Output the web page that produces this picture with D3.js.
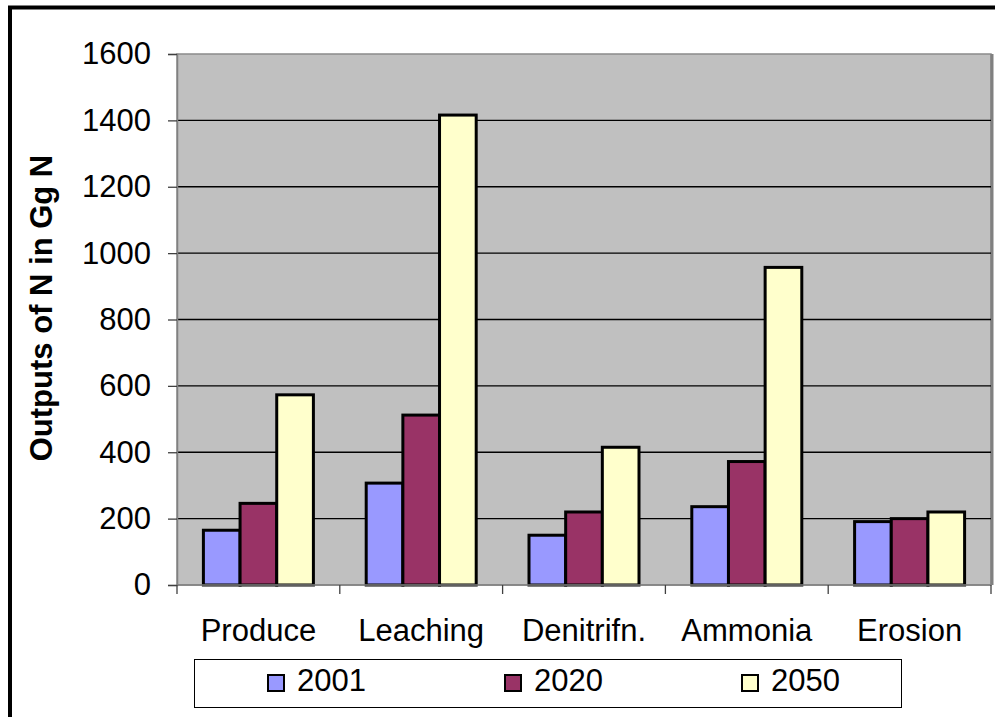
<!DOCTYPE html>
<html>
<head>
<meta charset="utf-8">
<script src="https://cdn.jsdelivr.net/npm/d3@7"></script>
<style>
  body { margin: 0; background: #fff; }
  svg text { font-family: Arial, "Liberation Sans", sans-serif; fill: #000; }
</style>
</head>
<body>
<svg id="chart" width="995" height="717"></svg>
<script>
// ---- data ----
const categories = ["Produce", "Leaching", "Denitrifn.", "Ammonia", "Erosion"];
const seriesNames = ["2001", "2020", "2050"];
const values2001 = [165, 307, 150, 236, 191];
const values2020 = [246, 512, 220, 372, 200];
const values2050 = [573, 1416, 415, 957, 220];
const yTicks = [0, 200, 400, 600, 800, 1000, 1200, 1400, 1600];
const colors = ["#9999FF", "#993366", "#FFFFCC"];

const seriesValues = [values2001, values2020, values2050];
const table = categories.map((c, i) => ({
  cat: c,
  vals: seriesNames.map((s, j) => ({ key: s, v: seriesValues[j][i] }))
}));

// ---- layout ----
const svg = d3.select("#chart");
const plot = { left: 177, right: 991, top: 54, bottom: 585 };

// outer chart border (runs off the right/bottom edge)
svg.append("rect")
  .attr("x", 10).attr("y", 7.5)
  .attr("width", 1010).attr("height", 730)
  .attr("fill", "none").attr("stroke", "#000").attr("stroke-width", 4);

const y = d3.scaleLinear().domain([0, 1600]).range([plot.bottom, plot.top]);
const x0 = d3.scaleBand().domain(categories).range([plot.left, plot.right]).padding(0);
const x1 = d3.scaleBand().domain(seriesNames)
  .range([0, x0.bandwidth()]).paddingInner(0).paddingOuter(0.72);

// plot background
svg.append("rect")
  .attr("x", plot.left).attr("y", plot.top)
  .attr("width", plot.right - plot.left).attr("height", plot.bottom - plot.top)
  .attr("fill", "#C0C0C0").attr("stroke", "#8a8a8a").attr("stroke-width", 1.5);
svg.append("line")
  .attr("x1", plot.right + 1).attr("x2", plot.right + 1)
  .attr("y1", plot.top).attr("y2", plot.bottom)
  .attr("stroke", "#808080").attr("stroke-width", 3);

// gridlines
svg.append("g")
  .selectAll("line")
  .data(yTicks.filter(t => t > 0 && t < 1600))
  .join("line")
  .attr("x1", plot.left).attr("x2", plot.right)
  .attr("y1", d => y(d)).attr("y2", d => y(d))
  .attr("stroke", "#000").attr("stroke-width", 1.3);

// bars
svg.append("g")
  .selectAll("g")
  .data(table)
  .join("g")
  .attr("transform", d => `translate(${x0(d.cat)},0)`)
  .selectAll("rect")
  .data(d => d.vals)
  .join("rect")
  .attr("x", d => x1(d.key))
  .attr("width", x1.bandwidth())
  .attr("y", d => y(d.v))
  .attr("height", d => y(0) - y(d.v))
  .attr("fill", (d, i) => colors[i])
  .attr("stroke", "#000").attr("stroke-width", 3);

// y axis
const yAxis = svg.append("g")
  .attr("transform", `translate(${plot.left},0)`)
  .call(d3.axisLeft(y).tickValues(yTicks).tickSize(9).tickPadding(17).tickFormat(d3.format("d")));
yAxis.select(".domain").attr("stroke", "#808080").attr("stroke-width", 1.5);
yAxis.selectAll(".tick line").attr("stroke", "#404040").attr("stroke-width", 1.3);
yAxis.selectAll("text").style("font-size", "31px");

// x axis line and category ticks
svg.append("line")
  .attr("x1", plot.left).attr("x2", plot.right)
  .attr("y1", plot.bottom).attr("y2", plot.bottom)
  .attr("stroke", "#808080").attr("stroke-width", 1.5);
svg.append("g")
  .selectAll("line")
  .data(categories.map(c => x0(c)).concat([plot.right]))
  .join("line")
  .attr("x1", d => d).attr("x2", d => d)
  .attr("y1", plot.bottom).attr("y2", plot.bottom + 9)
  .attr("stroke", "#404040").attr("stroke-width", 1.3);

svg.append("g")
  .selectAll("text")
  .data(categories)
  .join("text")
  .attr("x", d => x0(d) + x0.bandwidth() / 2)
  .attr("y", 641)
  .attr("text-anchor", "middle")
  .style("font-size", "31px")
  .text(d => d);

// y axis title
svg.append("text")
  .attr("transform", "translate(52,308) rotate(-90)")
  .attr("text-anchor", "middle")
  .style("font-size", "31px")
  .style("font-weight", "bold")
  .text("Outputs of N in Gg N");

// legend
const legend = svg.append("g");
legend.append("rect")
  .attr("x", 194.5).attr("y", 659.5)
  .attr("width", 707).attr("height", 48)
  .attr("fill", "#fff").attr("stroke", "#000").attr("stroke-width", 1);
const legendX = [267, 504, 741];
const item = legend.selectAll("g.item")
  .data(seriesNames)
  .join("g")
  .attr("class", "item")
  .attr("transform", (d, i) => `translate(${legendX[i]},0)`);
item.append("rect")
  .attr("x", 1).attr("y", 675)
  .attr("width", 16).attr("height", 16)
  .attr("fill", (d, i) => colors[i])
  .attr("stroke", "#000").attr("stroke-width", 2);
item.append("text")
  .attr("x", 30).attr("y", 691)
  .style("font-size", "31px")
  .text(d => d);
</script>
</body>
</html>
